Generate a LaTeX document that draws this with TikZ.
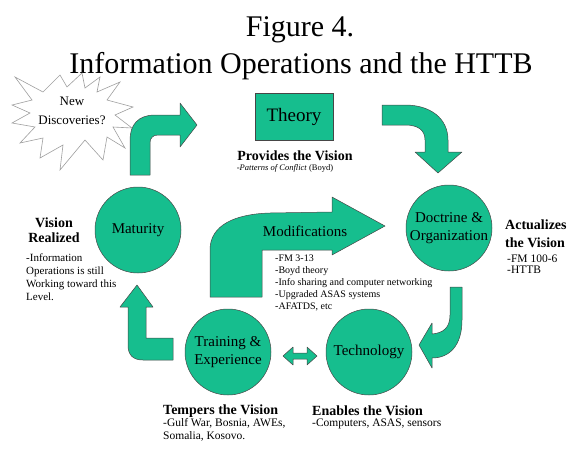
\documentclass[tikz,border=0pt]{standalone}
\usepackage{fontspec}
\setmainfont{Liberation Serif}
\definecolor{teal1}{RGB}{22,190,142}
\definecolor{edge}{RGB}{70,70,70}
\begin{document}
\begin{tikzpicture}[x=1pt,y=-1pt,
  blk/.style={fill=teal1,draw=edge,line width=0.5pt,line join=round},
  circ/.style={circle,fill=teal1,draw=edge,line width=0.5pt,minimum size=86pt,inner sep=0pt,align=center,font=\fontsize{15}{18}\selectfont},
  head/.style={font=\fontsize{14}{17}\selectfont\bfseries,inner sep=0pt},
  small/.style={inner sep=0pt,align=left}]
\useasboundingbox (0,0) rectangle (571,448);
% title
\node[font=\fontsize{30}{32}\selectfont,anchor=base] (fig) at (300,36) {Figure 4.};
\node[font=\fontsize{30}{32}\selectfont,anchor=base] (title) at (301,73) {Information Operations and the HTTB};
% starburst
\draw[draw=gray!75,fill=white,line width=0.6pt,line join=miter]
  (15,77) -- (43,92) -- (60,75) -- (67,87) -- (82,73) -- (85,88) -- (100,77) -- (97,92)
  -- (120,82) -- (107,100) -- (133,107) -- (115,115) -- (132,128) -- (113,127)
  -- (125,148) -- (107,137) -- (103,160) -- (85,140) -- (60,170) -- (63,145)
  -- (40,158) -- (43,138) -- (20,143) -- (35,127) -- (12,123) -- (30,113)
  -- (12,105) -- (32,100) -- cycle;
\node[font=\fontsize{13}{19}\selectfont,align=center,inner sep=0pt] (new) at (72,111) {New\\Discoveries?};
% block arrows
\draw[blk] (130,175) -- (130,140) .. controls (130,125) and (138,115) .. (155,115) -- (180,115)
  -- (180,103) -- (197,125) -- (180,147) -- (180,135) -- (158,135)
  .. controls (153,135) and (150,138) .. (150,143) -- (150,175) -- cycle;
\draw[blk] (382,105) -- (405,105) .. controls (430,105) and (448,118) .. (448,140) -- (448,152)
  -- (462,152) -- (438,173) -- (415,152) -- (425,152) -- (425,140)
  .. controls (425,130) and (418,125) .. (405,125) -- (382,125) -- cycle;
\draw[blk] (210,297) -- (210,250) .. controls (210,225) and (235,214) .. (270,213) -- (332,212)
  -- (332,197) -- (385,226) -- (332,255) -- (332,250) -- (262,250) -- (262,297) -- cycle;
\draw[blk] (450,287) -- (462,287) -- (462,320) .. controls (462,345) and (450,358) .. (432,358)
  -- (432,368) -- (419,345) -- (432,323) -- (432,334)
  .. controls (443,333) and (450,328) .. (450,315) -- cycle;
\draw[blk] (173,338) -- (146,338) -- (146,307) -- (153,307) -- (137,285) -- (120,307) -- (128,307)
  -- (128,345) .. controls (128,355) and (133,360) .. (143,360) -- (173,360) -- cycle;
\draw[blk] (283,356) -- (293,347) -- (293,353) -- (307,353) -- (307,347) -- (317,356)
  -- (307,365) -- (307,359) -- (293,359) -- (293,365) -- cycle;
% theory
\node[draw=edge,fill=teal1,line width=0.5pt,minimum width=78pt,minimum height=47pt,inner sep=0pt,font=\fontsize{19}{20}\selectfont] (theory) at (294,116.5) {Theory};
\node[head] (prov) at (295,156) {Provides the Vision};
\node[font=\fontsize{8.5}{10}\selectfont,inner sep=0pt] (pat) at (285,168) {-\textit{Patterns of Conflict} (Boyd)};
% circles
\node[circ] (doc) at (449,228) {Doctrine \&\\Organization};
\node[circ] (mat) at (138,230) {Maturity};
\node[circ] (trn) at (228,352) {Training \&\\Experience};
\node[circ] (tech) at (369,352) {Technology};
% modifications
\node[font=\fontsize{15}{16}\selectfont,inner sep=0pt] (mod) at (305,231) {Modifications};
\node[small,anchor=west,font=\fontsize{10}{12}\selectfont] (modl) at (275,283) {-FM 3-13\\-Boyd theory\\-Info sharing and computer networking\\-Upgraded ASAS systems\\-AFATDS, etc};
% right labels
\node[head,anchor=west,align=left,font=\fontsize{14}{18}\selectfont\bfseries] (act) at (505,234) {Actualizes\\the Vision};
\node[small,anchor=west,font=\fontsize{11.5}{11}\selectfont] (actl) at (507,264.5) {-FM 100-6\\-HTTB};
% left labels
\node[head,align=center,font=\fontsize{14}{15}\selectfont\bfseries] (vr) at (54,230.5) {Vision\\Realized};
\node[small,anchor=west,font=\fontsize{11}{13}\selectfont] (vrl) at (26,277.5) {-Information\\Operations is still\\Working toward this\\Level.};
% bottom labels
\node[head,anchor=west] (temp) at (163,411) {Tempers the Vision};
\node[small,anchor=west,font=\fontsize{11.5}{12.5}\selectfont] (templ) at (163,430) {-Gulf War, Bosnia, AWEs,\\Somalia, Kosovo.};
\node[head,anchor=west] (enab) at (312,411) {Enables the Vision};
\node[small,anchor=west,font=\fontsize{11.5}{12.5}\selectfont] (enabl) at (312,424) {-Computers, ASAS, sensors};
\end{tikzpicture}
\end{document}
